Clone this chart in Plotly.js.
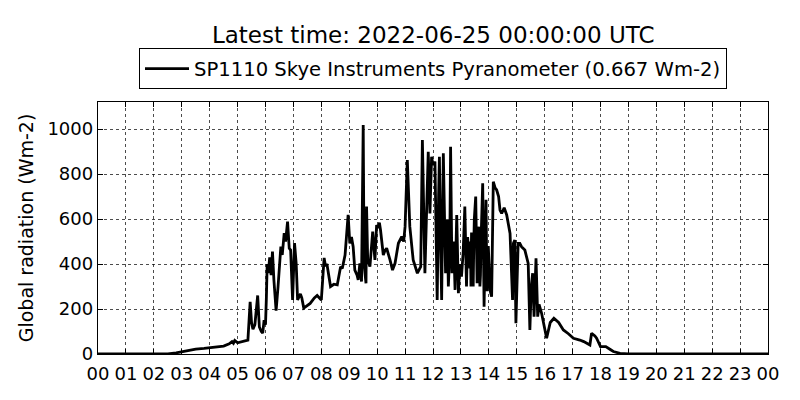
<!DOCTYPE html>
<html>
<head>
<meta charset="utf-8">
<script src="https://cdn.plot.ly/plotly-3.0.1.min.js"></script>
<style>html,body{margin:0;padding:0;background:#fff;}#chart{width:800px;height:400px;}</style>
</head>
<body>
<div id="chart"></div>
<script>
// Hour of day (decimal hours) and global radiation (Wm-2)
const hours = [
0,1,2,2.5,2.8,3.0,3.2,3.5,3.8,4.0,4.3,4.5,4.7,4.8,4.85,4.9,5.0,5.2,5.37,5.45,5.5,5.55,5.62,5.72,5.78,5.85,5.9,5.95,6.0,
6.03,6.06,6.1,6.15,6.2,6.25,6.3,6.38,6.45,6.55,6.6,6.67,6.72,6.79,6.85,6.9,6.97,7.04,7.1,7.15,7.25,7.3,7.37,7.5,7.6,7.75,7.85,8.0,
8.1,8.15,8.2,8.33,8.45,8.57,8.69,8.75,8.85,8.96,9.02,9.08,9.14,9.2,9.28,9.32,9.38,9.44,9.5,9.53,9.56,9.6,9.62,9.66,9.74,9.84,9.92,9.98,
10.03,10.08,10.12,10.22,10.28,10.34,10.46,10.55,10.64,10.72,10.76,10.88,10.95,11.0,11.08,11.17,11.29,11.44,11.56,11.62,11.68,11.71,11.83,11.89,11.95,
12.0,12.07,12.1,12.15,12.2,12.23,12.27,12.31,12.37,12.42,12.45,12.51,12.55,12.6,12.63,12.68,12.74,12.79,12.85,12.91,12.96,13.02,13.08,13.14,13.2,13.24,13.28,13.32,
13.34,13.36,13.38,13.4,13.42,13.44,13.46,13.48,13.53,13.56,13.58,13.6,13.62,13.65,13.68,13.7,13.72,13.74,13.78,13.83,13.85,13.87,13.9,13.93,13.95,13.98,14.0,14.03,14.05,14.1,14.16,14.22,14.28,14.35,14.4,14.46,14.55,14.64,14.7,14.76,
14.85,14.88,14.93,14.97,15.05,15.11,15.17,15.29,15.41,15.47,15.52,15.57,15.62,15.69,15.75,15.8,15.89,16.07,16.2,16.33,16.5,16.67,16.85,17.03,17.26,17.4,17.62,17.68,
17.8,17.86,18.0,18.19,18.35,18.46,18.7,19.0,24
];
const radiation = [
0,0,0,1,5,10,17,22,25,27,30,35,45,55,48,60,50,55,62,232,140,110,130,260,120,100,93,150,130,
244,400,360,430,350,455,330,193,300,477,440,537,500,588,470,462,240,493,400,240,267,250,204,215,225,249,260,240,
427,390,400,300,310,307,388,380,440,618,492,520,477,373,350,329,403,322,1018,400,359,314,655,420,388,544,418,573,
560,584,551,440,460,470,418,373,403,470,492,522,500,566,862,566,418,359,388,951,500,359,899,625,877,
840,855,600,240,700,877,500,240,892,400,359,596,300,450,921,359,500,285,618,270,400,344,450,655,300,520,462,380,
500,300,540,329,450,300,480,600,700,350,314,480,520,566,300,350,500,600,759,210,450,500,685,280,300,480,418,300,280,255,766,740,729,700,640,625,650,618,580,536,
240,492,507,137,492,492,477,462,403,107,300,359,166,425,166,220,181,70,140,159,140,107,90,70,62,55,40,92,
80,70,33,33,20,11,3,0,0
];
const tickHours = [0,1,2,3,4,5,6,7,8,9,10,11,12,13,14,15,16,17,18,19,20,21,22,23,24];
const tickLabels = ["00","01","02","03","04","05","06","07","08","09","10","11","12","13","14","15","16","17","18","19","20","21","22","23","00"];
const yTicks = [0,200,400,600,800,1000];

const font = "DejaVu Sans, sans-serif";
Plotly.newPlot("chart", [{
  x: hours, y: radiation, type: "scatter", mode: "lines",
  name: "SP1110 Skye Instruments Pyranometer (0.667 Wm-2)",
  line: {color: "#000", width: 2.8}
}], {
  width: 800, height: 400,
  margin: {l: 98, r: 32, t: 102, b: 46},
  paper_bgcolor: "#fff", plot_bgcolor: "#fff",
  font: {family: font, color: "#000", size: 18},
  title: {text: "Latest time: 2022-06-25 00:00:00 UTC", font: {family: font, size: 23, color: "#000"},
          x: 0.5415, xanchor: "center", y: 0.912, yanchor: "middle", yref: "container"},
  showlegend: true,
  legend: {orientation: "h", x: 0.5, xanchor: "center", y: 1.05, yanchor: "bottom",
           bordercolor: "#000", borderwidth: 1, bgcolor: "#fff", itemwidth: 44,
           font: {family: font, size: 19.6, color: "#000"}},
  xaxis: {range: [0, 24], tickvals: tickHours, ticktext: tickLabels,
          showline: true, linecolor: "#000", linewidth: 1.2, mirror: "ticks",
          ticks: "inside", ticklen: 5, tickcolor: "#000", ticklabelstandoff: 3,
          showgrid: true, gridcolor: "#000", griddash: "dot", gridwidth: 0.7,
          zeroline: false, tickfont: {family: font, size: 18}, fixedrange: true},
  yaxis: {range: [0, 1120], tickvals: yTicks,
          showline: true, linecolor: "#000", linewidth: 1.2, mirror: "ticks",
          ticks: "inside", ticklen: 5, tickcolor: "#000",
          showgrid: true, gridcolor: "#000", griddash: "dot", gridwidth: 0.7,
          zeroline: false, tickfont: {family: font, size: 18},
          title: {text: "Global radiation (Wm-2)", font: {family: font, size: 19}, standoff: 8}}
}, {staticPlot: true});
</script>
</body>
</html>
